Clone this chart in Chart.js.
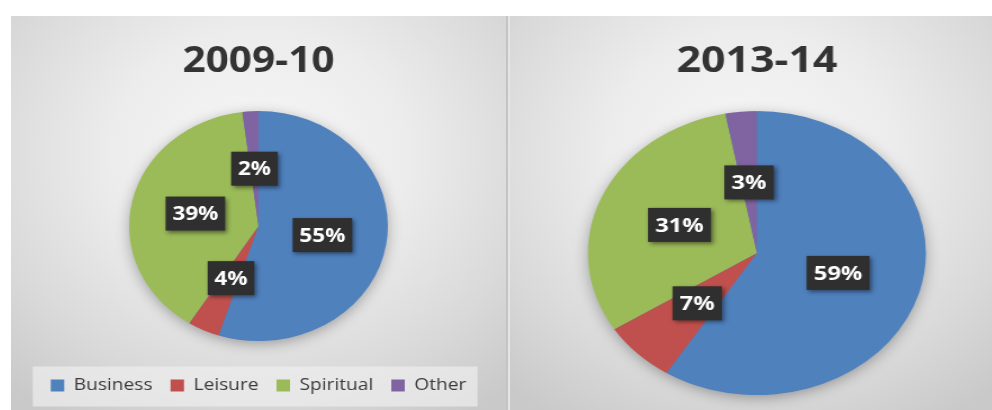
<!DOCTYPE html>
<html>
<head>
<meta charset="utf-8">
<script src="https://cdn.jsdelivr.net/npm/chart.js@4.4.1/dist/chart.umd.min.js"></script>
<style>
  html, body { margin: 0; padding: 0; background: #fff; }
  body { width: 992px; height: 410px; position: relative; overflow: hidden; }
  .panel {
    position: absolute; top: 16px; height: 394px; overflow: hidden;
    background: radial-gradient(ellipse 75% 80% at 50% 35%, #f7f7f7 0%, #ececec 40%, #d9d9d9 75%, #c9c9c9 100%);
  }
  #p1 { left: 11px; width: 495px; border-right: 2px solid #c4c4c4; }
  #p2 { left: 510px; width: 482px; }
  #gap { position: absolute; left: 508px; top: 16px; width: 2px; height: 394px; background: #e4e4e4; }
  .stretch { position: absolute; left: 0; top: 0; height: 394px; transform-origin: 0 0; }
  #s1 { width: 440px; transform: scaleX(1.125); }
  #s2 { width: 405px; transform: scaleX(1.19); }
</style>
</head>
<body>
<div id="p1" class="panel"><div id="s1" class="stretch"><canvas id="pie0910"></canvas></div></div>
<div id="gap"></div>
<div id="p2" class="panel"><div id="s2" class="stretch"><canvas id="pie1314"></canvas></div></div>
<script>
const categories = ["Business", "Leisure", "Spiritual", "Other"];
const share200910 = [55, 4, 39, 2];
const share201314 = [59, 7, 31, 3];
const sliceColors = ["#4f81bd", "#c0504d", "#9bbb59", "#8064a2"];

// sombra suave bajo el pastel
const pieShadow = {
  id: "pieShadow",
  beforeDatasetsDraw(chart) {
    const arc = chart.getDatasetMeta(0).data[0];
    if (!arc) return;
    const ctx = chart.ctx;
    ctx.save();
    ctx.shadowColor = "rgba(0,0,0,0.35)";
    ctx.shadowBlur = 14;
    ctx.shadowOffsetY = 3;
    ctx.fillStyle = "#4f81bd";
    ctx.beginPath();
    ctx.arc(arc.x, arc.y, arc.outerRadius - 1, 0, Math.PI * 2);
    ctx.fill();
    ctx.restore();
  }
};

// etiquetas en caja oscura
const boxLabels = {
  id: "boxLabels",
  afterDatasetsDraw(chart) {
    const ctx = chart.ctx;
    const values = chart.data.datasets[0].data;
    ctx.save();
    ctx.font = "bold 20px 'Open Sans', sans-serif";
    ctx.textAlign = "center";
    ctx.textBaseline = "middle";
    chart.getDatasetMeta(0).data.forEach((arc, i) => {
      const p = arc.tooltipPosition();
      const txt = values[i] + "%";
      const w = ctx.measureText(txt).width + 12;
      const h = 34;
      ctx.shadowColor = "rgba(0,0,0,0.45)";
      ctx.shadowBlur = 4;
      ctx.shadowOffsetX = 2;
      ctx.shadowOffsetY = 2;
      ctx.fillStyle = "#2f2f2f";
      ctx.fillRect(p.x - w / 2, p.y - h / 2, w, h);
      ctx.shadowColor = "transparent";
      ctx.fillStyle = "#ffffff";
      ctx.fillText(txt, p.x, p.y + 1);
    });
    ctx.restore();
  }
};

// fondo claro detrás de la leyenda
const legendBox = {
  id: "legendBox",
  beforeDraw(chart) {
    const lg = chart.legend;
    if (!lg || !lg.options.display || !lg.legendHitBoxes.length) return;
    const boxes = lg.legendHitBoxes;
    const last = boxes[boxes.length - 1];
    const left = boxes[0].left - 16;
    const right = last.left + last.width + 10;
    const cy = boxes[0].top + boxes[0].height / 2;
    const ctx = chart.ctx;
    ctx.save();
    ctx.fillStyle = "rgba(240,240,240,0.65)";
    ctx.fillRect(left, cy - 19, right - left, 40);
    ctx.restore();
  }
};

const titleFont = { family: "'Open Sans', sans-serif", size: 36, weight: "bold" };

// 2009-10
new Chart(document.getElementById("pie0910"), {
  type: "pie",
  data: {
    labels: categories,
    datasets: [{ data: share200910, backgroundColor: sliceColors, borderWidth: 0, radius: 115 }]
  },
  options: {
    responsive: true,
    maintainAspectRatio: false,
    animation: false,
    layout: { padding: { bottom: 6 } },
    plugins: {
      title: { display: true, text: "2009-10", color: "#333333", font: titleFont, padding: { top: 24, bottom: 8 } },
      legend: {
        position: "bottom",
        labels: {
          boxWidth: 12, boxHeight: 12, padding: 16, color: "#3a3a3a",
          font: { family: "'Open Sans', sans-serif", size: 17 }
        }
      },
      tooltip: { enabled: false }
    }
  },
  plugins: [legendBox, pieShadow, boxLabels]
});

// 2013-14
new Chart(document.getElementById("pie1314"), {
  type: "pie",
  data: {
    labels: categories,
    datasets: [{ data: share201314, backgroundColor: sliceColors, borderWidth: 0, radius: 142 }]
  },
  options: {
    responsive: true,
    maintainAspectRatio: false,
    animation: false,
    layout: { padding: { left: 10, bottom: 0 } },
    plugins: {
      title: { display: true, text: "2013-14", color: "#333333", font: titleFont, padding: { top: 24, bottom: 13 } },
      legend: { display: false },
      tooltip: { enabled: false }
    }
  },
  plugins: [pieShadow, boxLabels]
});
</script>
</body>
</html>
